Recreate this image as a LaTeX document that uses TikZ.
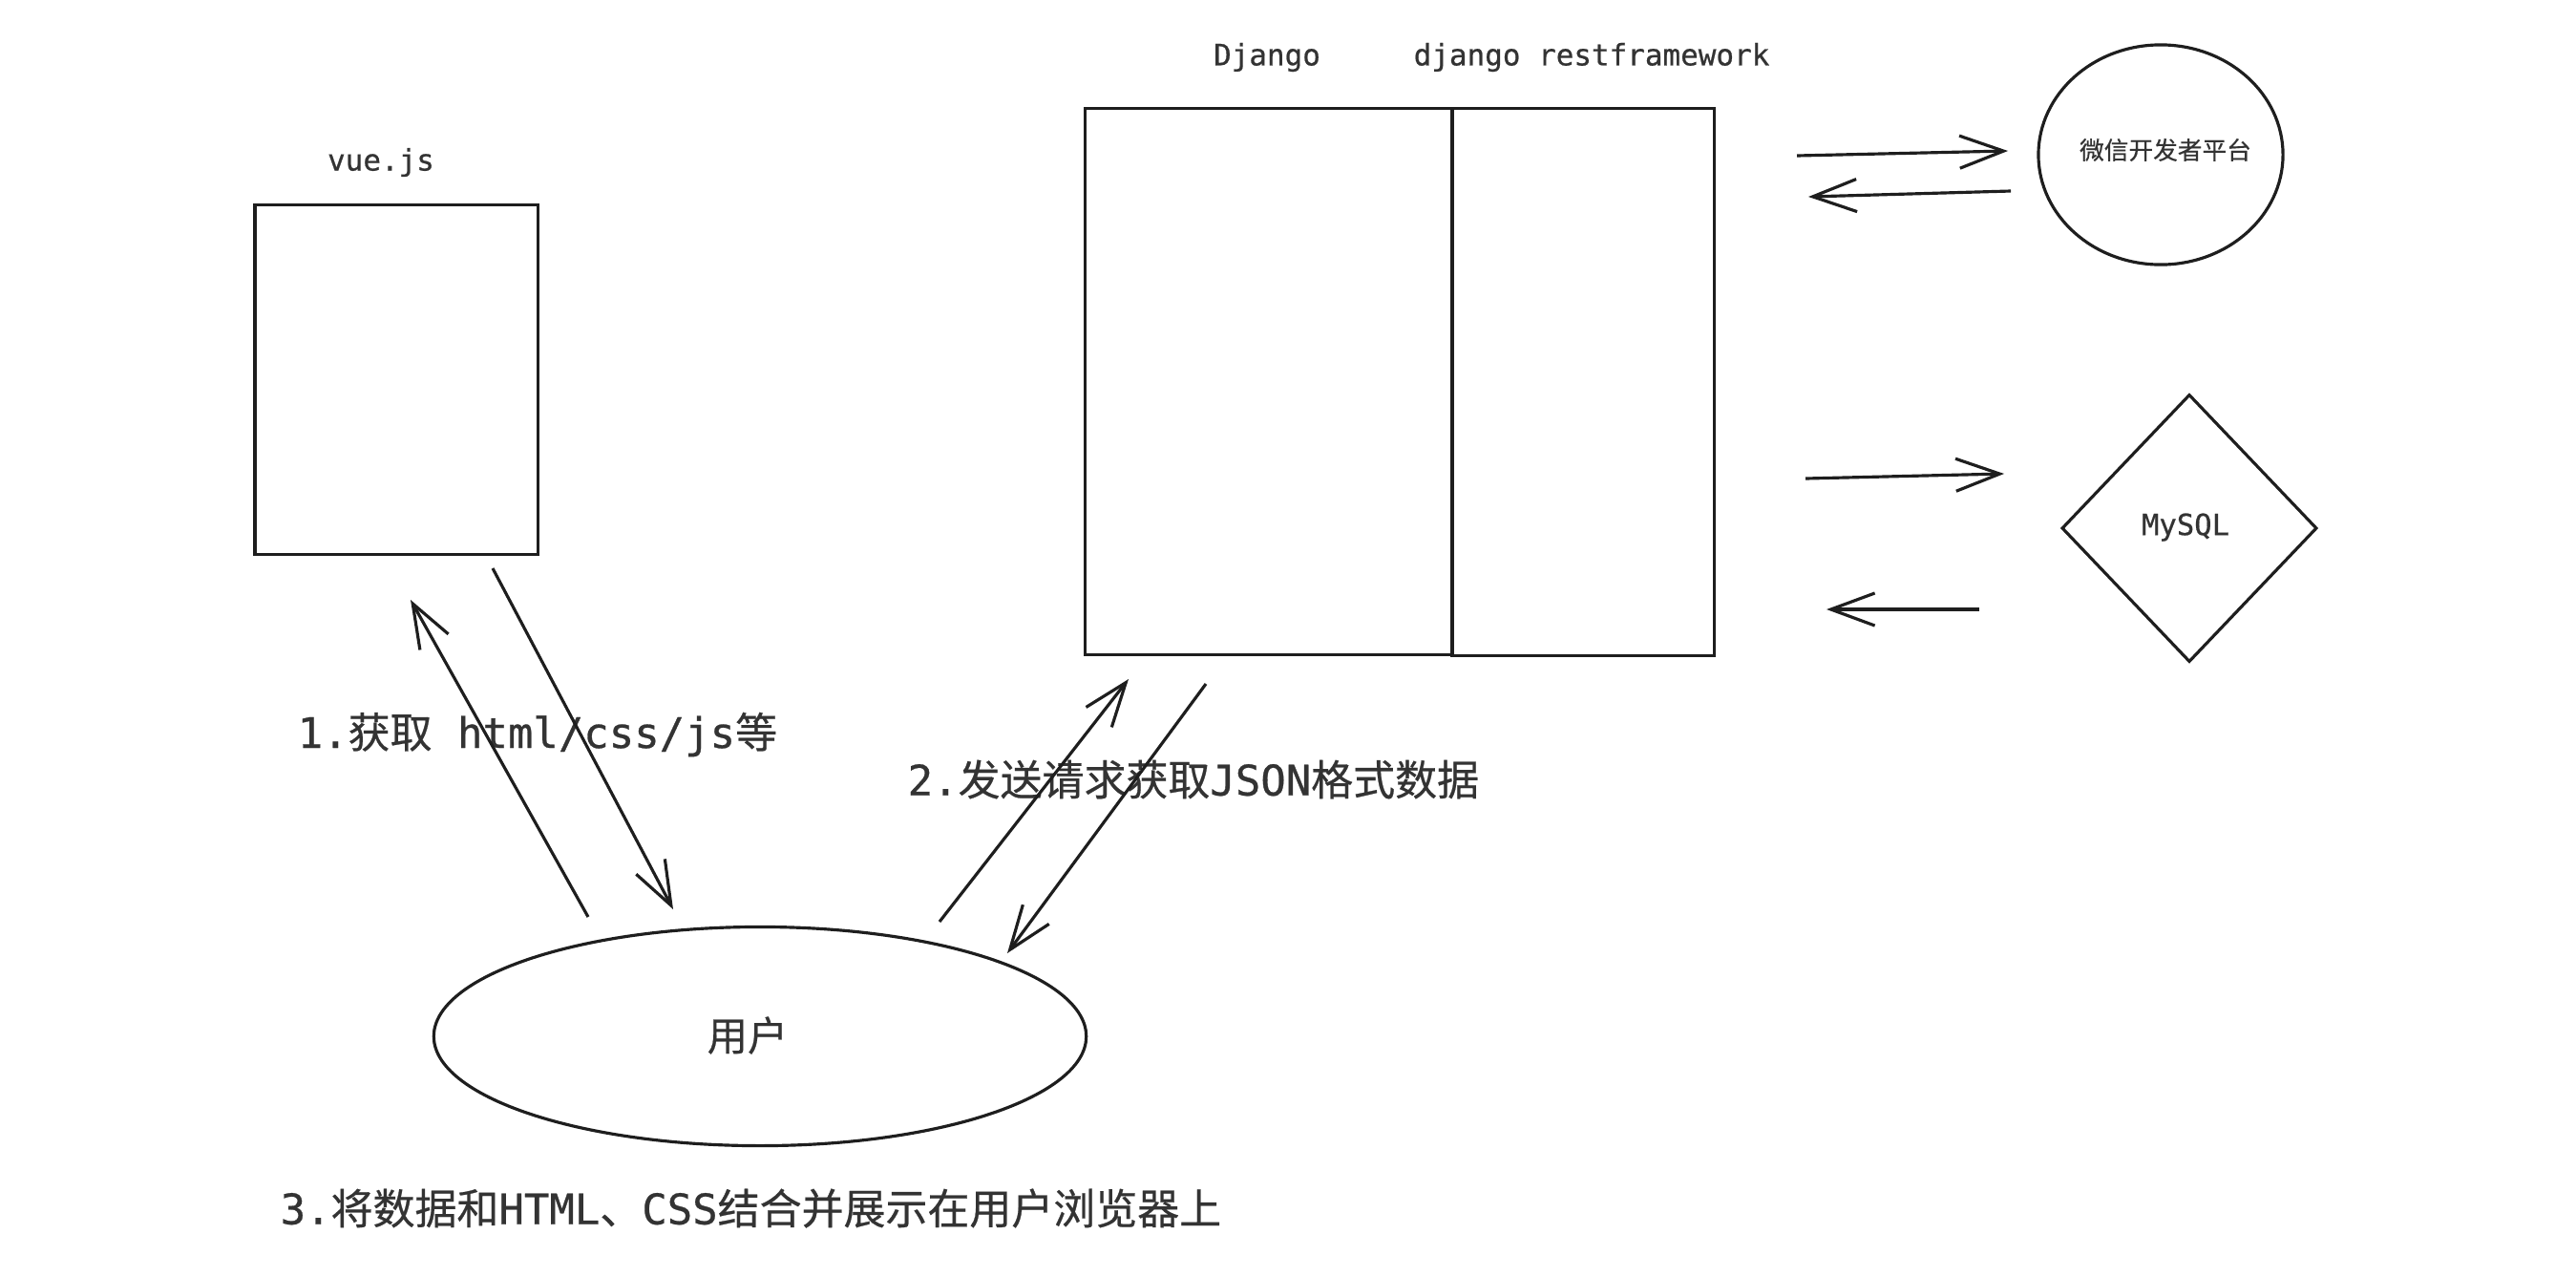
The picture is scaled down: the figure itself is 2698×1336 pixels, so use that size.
\documentclass[tikz,border=0pt]{standalone}
\usepackage{fontspec}
\setmainfont{DejaVu Sans Mono}[FakeBold=0.6]
\newfontfamily\cjk{Noto Sans CJK SC}[FakeBold=0.5]
\usetikzlibrary{shapes.geometric,arrows.meta}
\definecolor{ink}{HTML}{1E1E1E}
\definecolor{txt}{HTML}{333333}
\begin{document}
\begin{tikzpicture}[x=0.01cm,y=-0.01cm,
  box/.style={draw=ink, line width=0.9pt, inner sep=0pt},
  lbl/.style={text=txt, inner sep=0pt},
  big/.style={lbl, font=\fontsize{12.5}{14}\selectfont},
  small/.style={lbl, font=\fontsize{8.8}{10}\selectfont},
  arr/.style={draw=ink, line width=0.9pt, -{Straight Barb[length=4.6mm,width=3.4mm]}}]
\fill[white] (0,0) rectangle (2698,1336);
\useasboundingbox (0,0) rectangle (2698,1336);

% boxes
\node[box, minimum width=2.96cm, minimum height=3.65cm] (vue) at (415,397.5) {};
\node[box, minimum width=3.84cm, minimum height=5.71cm] (django) at (1329,399.5) {};
\node[box, minimum width=2.74cm, minimum height=5.72cm] (drf) at (1658,400) {};
\node[box, ellipse, minimum width=2.56cm, minimum height=2.30cm] (wx) at (2263,162) {};
\node[box, diamond, minimum width=2.67cm, minimum height=2.80cm] (db) at (2293,553) {};
\node[box, ellipse, minimum width=6.83cm, minimum height=2.29cm] (user) at (796,1085) {};

% labels
\node[small] (vuel) at (399,170) {vue.js};
\node[small] (djl) at (1327,60) {Django};
\node[small] (drfl) at (1667,60) {django restframework};
\node[lbl, font=\fontsize{7.3}{9}\selectfont\cjk] (wxl) at (2268,157) {微信开发者平台};
\node[lbl, font=\fontsize{8.7}{10}\selectfont] (dbl) at (2289,552) {MySQL};
\node[lbl, font=\fontsize{12}{14}\selectfont\cjk] (userl) at (783,1084) {用户};
\node[big, anchor=west] (l1) at (311,769) {1.{\cjk 获取} html/css/js{\cjk 等}};
\node[big, anchor=west] (l2) at (950,816) {2.{\cjk 发送请求获取}JSON{\cjk 格式数据}};
\node[big, anchor=west] (l3) at (293,1265) {3.{\cjk 将数据和}HTML{\cjk 、}CSS{\cjk 结合并展示在用户浏览器上}};

% arrow end points
\coordinate (a1s) at (1882,163); \coordinate (a1e) at (2103,158);
\coordinate (a2s) at (2106,200); \coordinate (a2e) at (1894,206);
\coordinate (a3s) at (1891,501); \coordinate (a3e) at (2099,496);
\coordinate (a4s) at (2073,638); \coordinate (a4e) at (1913,638);
\coordinate (v1s) at (616,960);  \coordinate (v1e) at (430,628);
\coordinate (v2s) at (516,595);  \coordinate (v2e) at (705,952);
\coordinate (d1s) at (984,965);  \coordinate (d1e) at (1182,711);
\coordinate (d2s) at (1263,716); \coordinate (d2e) at (1055,998);

\draw[arr] (a1s) -- (a1e);
\draw[arr] (a2s) -- (a2e);
\draw[arr] (a3s) -- (a3e);
\draw[arr] (a4s) -- (a4e);
\draw[arr] (v1s) -- (v1e);
\draw[arr] (v2s) -- (v2e);
\draw[arr] (d1s) -- (d1e);
\draw[arr] (d2s) -- (d2e);
\end{tikzpicture}
\end{document}
